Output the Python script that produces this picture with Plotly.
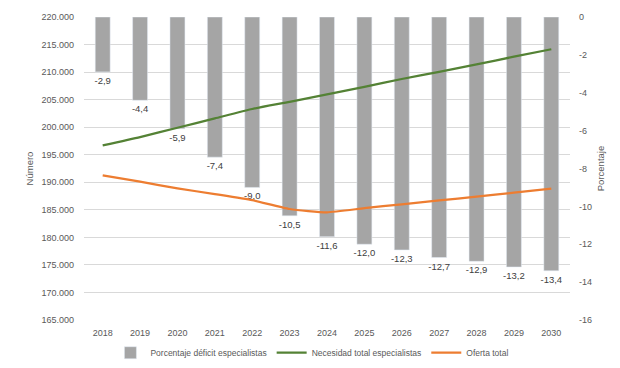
import plotly.graph_objects as go

years = [str(y) for y in range(2018, 2031)]
deficit_pct = [-2.9, -4.4, -5.9, -7.4, -9.0, -10.5, -11.6, -12.0, -12.3, -12.7, -12.9, -13.2, -13.4]
necesidad = [196700, 198200, 199900, 201600, 203300, 204600, 205950, 207300, 208750, 210050, 211400, 212800, 214150]
oferta = [191250, 190100, 188900, 187850, 186750, 185150, 184550, 185300, 186000, 186700, 187400, 188100, 188850]

left_ticks = list(range(165000, 220001, 5000))
left_ticktext = [f"{v // 1000}.000" for v in left_ticks]
right_ticks = list(range(-16, 1, 2))
right_ticktext = [str(v) for v in right_ticks]
bar_text = [f"{v:.1f}".replace(".", ",") for v in deficit_pct]

FONT = "Liberation Sans"
GREY = "#595959"

fig = go.Figure()
fig.add_trace(go.Bar(
    x=years, y=deficit_pct, name="Porcentaje déficit especialistas",
    marker_color="#A5A5A5", width=0.4, yaxis="y",
    text=bar_text, textposition="outside", cliponaxis=False, constraintext="none",
    textfont=dict(family=FONT, size=9.5, color="#404040"),
))
fig.add_trace(go.Scatter(
    x=years, y=necesidad, name="Necesidad total especialistas", mode="lines",
    line=dict(color="#548235", width=2.25, shape="spline", smoothing=0.5), yaxis="y2",
))
fig.add_trace(go.Scatter(
    x=years, y=oferta, name="Oferta total", mode="lines",
    line=dict(color="#ED7D31", width=2.25, shape="spline", smoothing=0.5), yaxis="y2",
))

fig.update_layout(
    width=620, height=368,
    margin=dict(l=76, r=58, t=9, b=45),
    paper_bgcolor="white", plot_bgcolor="white",
    font=dict(family=FONT, size=9, color=GREY),
    bargap=0.6,
    showlegend=True,
    legend=dict(orientation="h", x=0.47, xanchor="center", y=-0.108, yanchor="middle",
                font=dict(family=FONT, size=8.5, color=GREY), traceorder="normal",
                itemwidth=30),
    xaxis=dict(showgrid=False, showline=False, ticks="", ticklabelstandoff=6, automargin=False,
               tickfont=dict(family=FONT, size=9, color=GREY)),
    yaxis=dict(side="right", range=[-16, 0], tickvals=right_ticks, ticktext=right_ticktext,
               showgrid=False, zeroline=False, showline=False, ticks="", automargin=False,
               ticklabelstandoff=8,
               tickfont=dict(family=FONT, size=9, color=GREY),
               title=dict(text="Porcentaje", standoff=6, font=dict(family=FONT, size=9.5, color=GREY))),
    yaxis2=dict(side="left", overlaying="y", range=[165000, 220000],
                tickvals=left_ticks, ticktext=left_ticktext, automargin=False,
                showgrid=True, gridcolor="#D9D9D9", gridwidth=1, zeroline=False,
                showline=False, ticks="", ticklabelstandoff=9,
                tickfont=dict(family=FONT, size=9, color=GREY),
                title=dict(text="Número", standoff=6, font=dict(family=FONT, size=9.5, color=GREY))),
)

fig.write_html("out.html")
